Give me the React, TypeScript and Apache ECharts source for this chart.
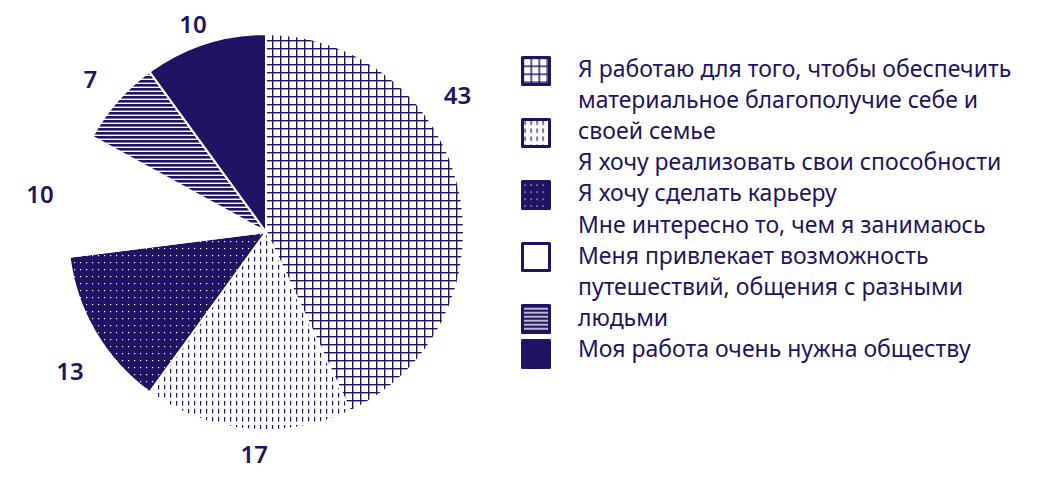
import React, { useEffect, useRef } from "react";
import * as echarts from "echarts";

const NAVY = "#1e1463";

const categories = [
  "Я работаю для того, чтобы обеспечить материальное благополучие себе и своей семье",
  "Я хочу реализовать свои способности",
  "Я хочу сделать карьеру",
  "Мне интересно то, чем я занимаюсь",
  "Меня привлекает возможность путешествий, общения с разными людьми",
  "Моя работа очень нужна обществу",
];
const values = [43, 17, 13, 10, 7, 10];

const legendLines = [
  "Я работаю для того, чтобы обеспечить",
  "материальное благополучие себе и",
  "своей семье",
  "Я хочу реализовать свои способности",
  "Я хочу сделать карьеру",
  "Мне интересно то, чем я занимаюсь",
  "Меня привлекает возможность",
  "путешествий, общения с разными",
  "людьми",
  "Моя работа очень нужна обществу",
];

// label nudges (px) relative to the radial label anchor
const labelNudge = [
  [-33, -87],
  [10, -7],
  [2, 21],
  [0, 5],
  [-3, -1],
  [-2, 10],
];

const CX = 266;
const CY = 232;
const R = 198;
const LABEL_R = 230;
const FONT = "'Noto Sans', sans-serif";

function pattern(w: number, h: number, draw: (ctx: CanvasRenderingContext2D) => void) {
  const c = document.createElement("canvas");
  c.width = w;
  c.height = h;
  const ctx = c.getContext("2d") as CanvasRenderingContext2D;
  draw(ctx);
  return { image: c, repeat: "repeat" } as any;
}

function buildFills() {
  const grid = pattern(8, 8, (ctx) => {
    ctx.fillStyle = "#fff";
    ctx.fillRect(0, 0, 8, 8);
    ctx.fillStyle = NAVY;
    ctx.fillRect(0, 0, 8, 1.4);
    ctx.fillRect(0, 0, 1.4, 8);
  });
  const dashes = pattern(6, 8, (ctx) => {
    ctx.fillStyle = "#fff";
    ctx.fillRect(0, 0, 6, 8);
    ctx.fillStyle = NAVY;
    ctx.fillRect(2, 1, 1.2, 4.5);
  });
  const dots = pattern(6, 7, (ctx) => {
    ctx.fillStyle = NAVY;
    ctx.fillRect(0, 0, 6, 7);
    ctx.fillStyle = "#fff";
    ctx.fillRect(2, 3, 1.2, 1.2);
  });
  const stripes = pattern(4, 4, (ctx) => {
    ctx.fillStyle = "#fff";
    ctx.fillRect(0, 0, 4, 4);
    ctx.fillStyle = NAVY;
    ctx.fillRect(0, 0, 4, 2.6);
  });
  return [grid, dashes, dots, "#ffffff", stripes, NAVY];
}

export default function App() {
  const ref = useRef<HTMLDivElement>(null);

  useEffect(() => {
    if (!ref.current) return;
    const chart = echarts.init(ref.current, undefined, { renderer: "svg" });
    const fills = buildFills();
    const total = values.reduce((a, b) => a + b, 0);
    const mids: number[] = [];
    let acc = 0;
    values.forEach((v) => {
      mids.push(((acc + v / 2) / total) * Math.PI * 2);
      acc += v;
    });

    const legendBase = {
      orient: "vertical",
      left: 521,
      padding: 0,
      itemWidth: 27,
      itemHeight: 27,
      itemGap: 32,
      icon: "rect",
      selectedMode: false,
      formatter: () => "",
      textStyle: { fontSize: 1 },
      itemStyle: { borderColor: NAVY, borderWidth: 3 },
    };

    chart.setOption({
      animation: false,
      backgroundColor: "#ffffff",
      legend: [
        { ...legendBase, top: 56, data: categories.slice(0, 5) },
        { ...legendBase, top: 339, data: categories.slice(5) },
      ],
      graphic: [
        {
          type: "text",
          left: 578,
          top: 52,
          style: {
            text: legendLines.join("\n"),
            font: `23px ${FONT}`,
            lineHeight: 31.2,
            fill: NAVY,
          },
        },
      ],
      series: [
        {
          type: "pie",
          center: [CX, CY],
          radius: R,
          startAngle: 90,
          clockwise: true,
          avoidLabelOverlap: false,
          emphasis: { disabled: true },
          itemStyle: { borderColor: "#ffffff", borderWidth: 2 },
          label: {
            show: true,
            position: "outside",
            formatter: "{c}",
            color: NAVY,
            fontSize: 24,
            fontWeight: 600,
            fontFamily: FONT,
          },
          labelLine: { show: false },
          labelLayout: (params: any) => {
            const i = params.dataIndex;
            const a = mids[i];
            return {
              x: CX + LABEL_R * Math.sin(a) + labelNudge[i][0],
              y: CY - LABEL_R * Math.cos(a) + labelNudge[i][1],
              align: "center",
              verticalAlign: "middle",
            };
          },
          data: categories.map((name, i) => ({
            name,
            value: values[i],
            itemStyle: { color: fills[i] },
          })),
        },
      ],
    });
    return () => chart.dispose();
  }, []);

  return (
    <div
      ref={ref}
      style={{ position: "fixed", left: 0, top: 0, width: 1041, height: 480 }}
    />
  );
}
